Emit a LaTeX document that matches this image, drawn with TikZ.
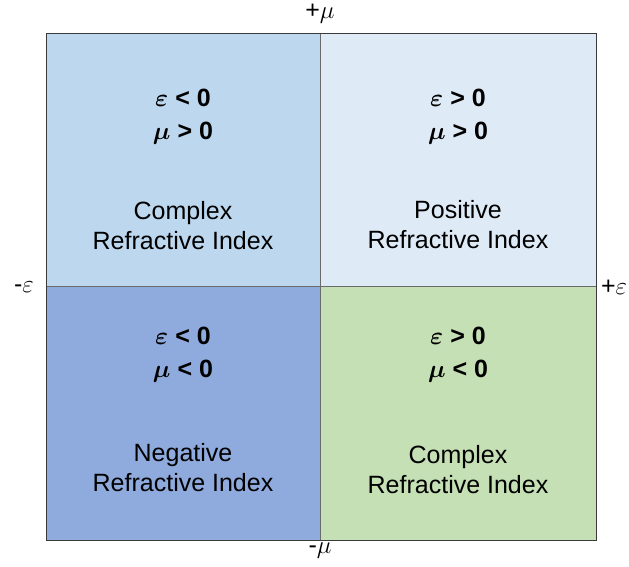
\documentclass[tikz,border=0pt]{standalone}
\usepackage{fontspec}
\setmainfont{Liberation Sans}
\usetikzlibrary{positioning}
\definecolor{TLc}{HTML}{BDD7EE}
\definecolor{TRc}{HTML}{DEEBF7}
\definecolor{BLc}{HTML}{8FAADC}
\definecolor{BRc}{HTML}{C5E0B4}
\definecolor{rim}{HTML}{3A3A3A}
\definecolor{mid}{HTML}{6A6A6A}
\tikzset{
  rimline/.style={draw=rim, line width=0.9pt},
  midline/.style={draw=mid, line width=0.8pt},
  sign/.style={font=\fontsize{25}{33}\selectfont\bfseries\boldmath, align=center},
  kind/.style={font=\fontsize{25}{30}\selectfont, align=center},
  axislbl/.style={font=\fontsize{25}{30}\selectfont},
}

\begin{document}
\begin{tikzpicture}[x=1pt, y=-1pt]
  \useasboundingbox (0,0) rectangle (629,567);
  % corners and centre of the chart
  \coordinate (nw) at (46,33);
  \coordinate (ne) at (596,33);
  \coordinate (sw) at (46,540);
  \coordinate (se) at (596,540);
  \coordinate (n) at (320,33);
  \coordinate (s) at (320,540);
  \coordinate (w) at (46,286);
  \coordinate (e) at (596,286);
  \coordinate (c) at (320,286);
  \fill[TLc] (nw) rectangle (c);
  \fill[TRc] (n) rectangle (e);
  \fill[BLc] (w) rectangle (s);
  \fill[BRc] (c) rectangle (se);
  \draw[midline] (n) -- (s);
  \draw[midline] (w) -- (e);
  \draw[rimline] (nw) rectangle (se);
  % quadrant texts
  \node[sign] (tlsign) at (183,117) {$\varepsilon$ < 0\\ $\mu$ > 0};
  \node[kind] (tlkind) at (183,226) {Complex\\ Refractive Index};
  \node[sign] (trsign) at (458,117) {$\varepsilon$ > 0\\ $\mu$ > 0};
  \node[kind] (trkind) at (458,225) {Positive\\ Refractive Index};
  \node[sign] (blsign) at (183,355) {$\varepsilon$ < 0\\ $\mu$ < 0};
  \node[kind] (blkind) at (183,468) {Negative\\ Refractive Index};
  \node[sign] (brsign) at (458,355) {$\varepsilon$ > 0\\ $\mu$ < 0};
  \node[kind] (brkind) at (458,470) {Complex\\ Refractive Index};
  % axis ends
  \node[axislbl] (mupos) at (320,14) {+$\mu$};
  \node[axislbl] (muneg) at (320,551) {-$\mu$};
  \node[axislbl] (epsneg) at (24,287) {-$\varepsilon$};
  \node[axislbl] (epspos) at (614,287) {+$\varepsilon$};
\end{tikzpicture}
\end{document}
